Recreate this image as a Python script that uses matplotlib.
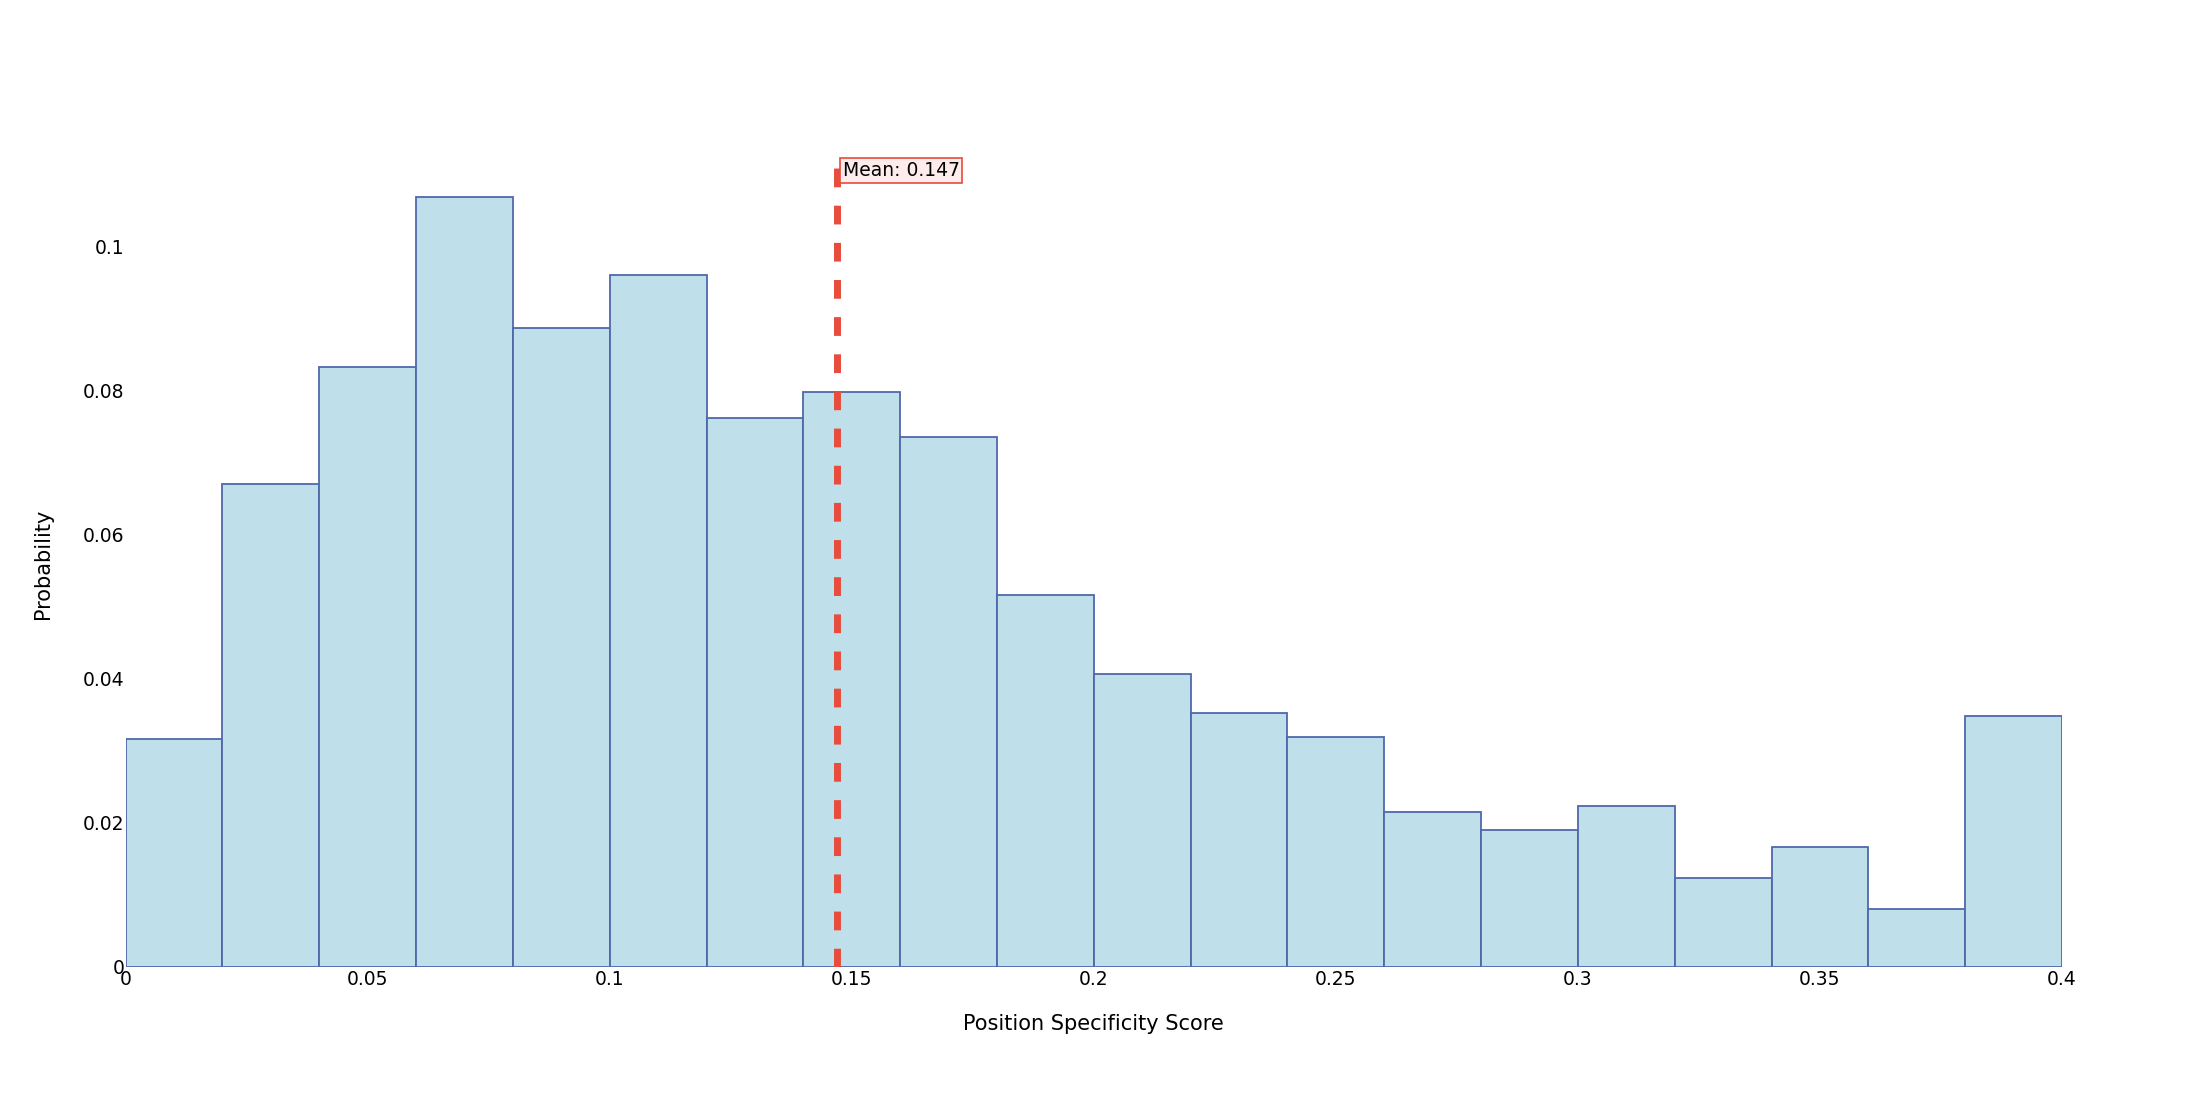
import numpy as np
import matplotlib
matplotlib.use("Agg")
import matplotlib.pyplot as plt

# histogram bins (score) and probability per bin
bin_edges = [0.00, 0.02, 0.04, 0.06, 0.08, 0.10, 0.12, 0.14, 0.16, 0.18, 0.20,
             0.22, 0.24, 0.26, 0.28, 0.30, 0.32, 0.34, 0.36, 0.38, 0.40]
probability = [0.0316, 0.0671, 0.0833, 0.1070, 0.0888, 0.0961, 0.0762, 0.0798,
               0.0736, 0.0516, 0.0407, 0.0353, 0.0320, 0.0215, 0.0190, 0.0223,
               0.0124, 0.0167, 0.0081, 0.0349]
mean_score = 0.147

x_ticks = [0, 0.05, 0.1, 0.15, 0.2, 0.25, 0.3, 0.35, 0.4]
x_ticklabels = ["0", "0.05", "0.1", "0.15", "0.2", "0.25", "0.3", "0.35", "0.4"]
y_ticks = [0, 0.02, 0.04, 0.06, 0.08, 0.1]
y_ticklabels = ["0", "0.02", "0.04", "0.06", "0.08", "0.1"]

plt.rcParams["font.family"] = ["DejaVu Sans"]

W, H = 2188, 1094
fig = plt.figure(figsize=(W / 100, H / 100), dpi=100)
left, right, bottom, top = 125.6, 2062, 967, 160
ax = fig.add_axes([left / W, 1 - bottom / H, (right - left) / W, (bottom - top) / H])

edges = np.array(bin_edges)
widths = np.diff(edges)
ax.bar(edges[:-1], probability, width=widths, align="edge",
       color="#bfe0ea", edgecolor="#5068aa", linewidth=1.3, zorder=2)

ax.axvline(mean_score, color="#e74c3c", linewidth=5, dashes=(2.7, 2.65), zorder=3)
ax.text(mean_score + 0.0011, 0.1106, f"Mean: {mean_score:.3f}", fontsize=13.5,
        ha="left", va="center", zorder=4,
        bbox=dict(boxstyle="square,pad=0.15", facecolor="#fdeceb",
                  edgecolor="#e74c3c", linewidth=1.2))

ax.set_xlim(0, 0.4)
ax.set_ylim(0, (bottom - top) / 7200)
ax.set_xticks(x_ticks)
ax.set_xticklabels(x_ticklabels)
ax.set_yticks(y_ticks)
ax.set_yticklabels(y_ticklabels)
ax.tick_params(axis="both", length=0, labelsize=13.5, pad=2)
ax.tick_params(axis="y", pad=1)

for s in ax.spines.values():
    s.set_visible(False)

ax.set_xlabel("Position Specificity Score", fontsize=15, labelpad=18)
ax.set_ylabel("Probability", fontsize=15, labelpad=21)

fig.savefig("out.png", dpi=100)
